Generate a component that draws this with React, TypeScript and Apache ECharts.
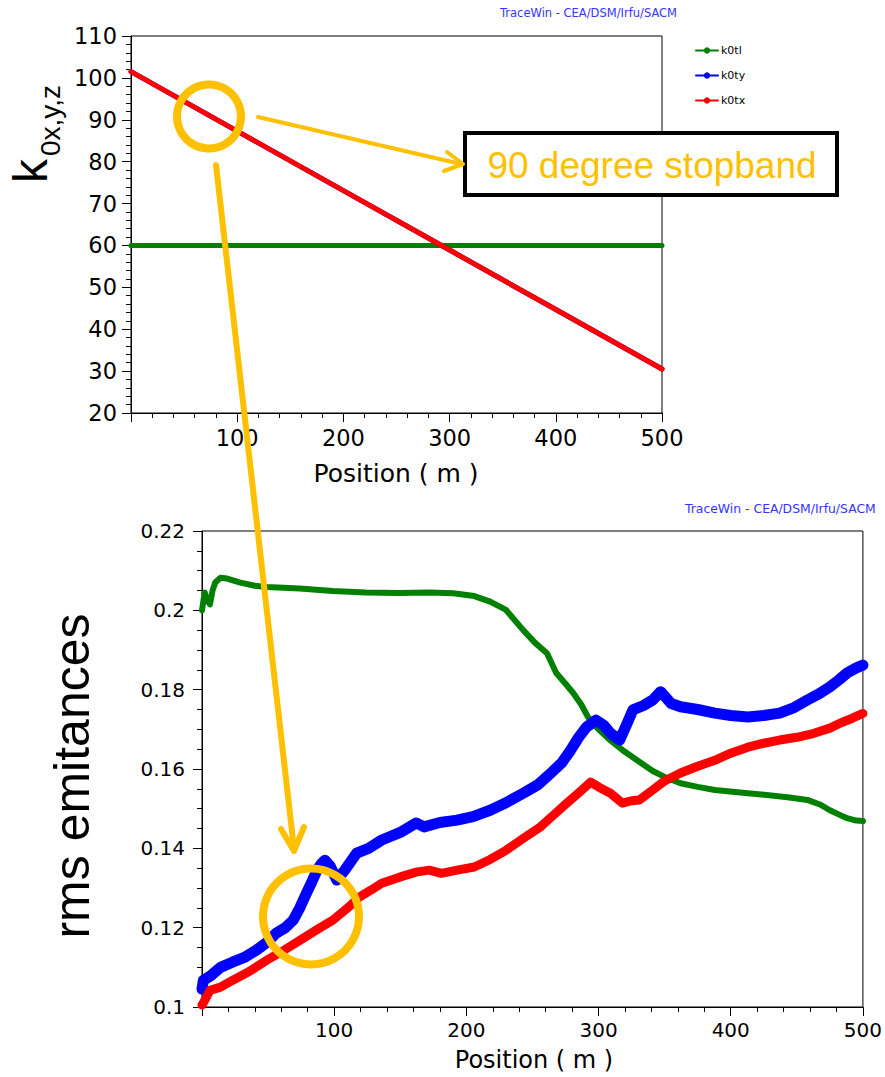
import React, { useEffect, useRef } from 'react';
import * as echarts from 'echarts';

// ---- Upper panel: phase advances per period (deg) along the linac ----
const topPosition = [0, 100, 200, 300, 400, 500];
const k0tl = [60, 60, 60, 60, 60, 60];
const k0ty = [101.5, 87.3, 73.1, 58.9, 44.7, 30.5];
const k0tx = [101.5, 87.3, 73.1, 58.9, 44.7, 30.5];

// ---- Lower panel: rms emittances along the linac ----
const emitTlPos = [0, 2, 4, 6, 8, 10, 14, 19, 24, 29, 40, 49, 74, 99, 124, 149, 172, 190, 206, 218, 230, 243, 252, 261, 268, 275, 281, 287, 292, 300, 309, 318, 330, 341, 350, 362, 375, 388, 413, 443, 458, 468, 475, 482, 488, 495, 500];
const emitTl = [0.2, 0.2045, 0.2025, 0.2015, 0.205, 0.207, 0.2082, 0.208, 0.2075, 0.207, 0.2062, 0.2059, 0.2055, 0.2049, 0.2045, 0.2044, 0.2045, 0.2043, 0.2036, 0.2022, 0.2001, 0.195, 0.1918, 0.1892, 0.1842, 0.1815, 0.1791, 0.1762, 0.1731, 0.17, 0.1672, 0.1648, 0.162, 0.1595, 0.158, 0.1564, 0.1555, 0.1547, 0.1539, 0.1529, 0.1522, 0.151, 0.1496, 0.1485, 0.1476, 0.147, 0.1469];

const emitTyPos = [0, 1, 7, 14, 23, 32, 41, 50, 56, 63, 69, 74, 79, 83, 87, 90, 93, 97, 102, 108, 117, 126, 136, 150, 162, 168, 180, 193, 205, 218, 230, 243, 254, 264, 272, 279, 285, 291, 298, 304, 309, 316, 321, 326, 334, 341, 347, 355, 362, 375, 388, 400, 413, 425, 437, 448, 458, 467, 475, 482, 488, 495, 500];
const emitTy = [0.1045, 0.1067, 0.108, 0.11, 0.1113, 0.1125, 0.1143, 0.1165, 0.1186, 0.12, 0.1219, 0.125, 0.1287, 0.1315, 0.1345, 0.136, 0.137, 0.1355, 0.132, 0.1345, 0.1388, 0.14, 0.1421, 0.144, 0.1464, 0.1454, 0.1465, 0.1471, 0.148, 0.1496, 0.1515, 0.1539, 0.156, 0.159, 0.1615, 0.1648, 0.168, 0.1706, 0.1723, 0.171, 0.169, 0.1673, 0.171, 0.1749, 0.176, 0.1774, 0.1795, 0.1765, 0.1757, 0.175, 0.1741, 0.1735, 0.1731, 0.1735, 0.1741, 0.1755, 0.1774, 0.179, 0.1807, 0.1825, 0.1842, 0.1855, 0.1862];

const emitTxPos = [0, 1, 6, 14, 23, 36, 49, 62, 74, 87, 99, 111, 119, 128, 136, 150, 162, 172, 181, 193, 206, 218, 230, 243, 256, 266, 276, 285, 294, 301, 309, 318, 325, 331, 341, 350, 362, 375, 388, 400, 413, 425, 437, 450, 463, 475, 483, 492, 500];
const emitTx = [0.1005, 0.101, 0.1042, 0.105, 0.1067, 0.109, 0.1118, 0.1143, 0.1168, 0.1195, 0.1219, 0.1252, 0.1277, 0.1295, 0.1312, 0.1328, 0.134, 0.1345, 0.1337, 0.1345, 0.1353, 0.1372, 0.1395, 0.1425, 0.1454, 0.1484, 0.1514, 0.154, 0.1567, 0.1553, 0.1539, 0.1514, 0.152, 0.1522, 0.1547, 0.157, 0.159, 0.1607, 0.1622, 0.164, 0.1655, 0.1665, 0.1673, 0.168, 0.169, 0.1703, 0.1716, 0.1728, 0.174];

const legendNames = ['k0tl', 'k0ty', 'k0tx'];
const stopbandText = '90 degree stopband';
const credit = 'TraceWin - CEA/DSM/Irfu/SACM';

const GREEN = '#008000';
const BLUE = '#0000ff';
const RED = '#ff0000';
const ORANGE = '#FFC000';
const TICK_FONT = "'DejaVu Sans', sans-serif";
const ARIAL = "'Liberation Sans', Arial, sans-serif";

const zip = (xs: number[], ys: number[]) => xs.map((x, i) => [x, ys[i]]);

const hideZero = (v: number) => (v === 0 ? '' : String(v));

function axisCommon(fontSize: number, margin: number) {
  return {
    axisLine: { show: true, onZero: false, lineStyle: { color: '#000', width: 1 } },
    axisTick: { show: true, length: 9, lineStyle: { color: '#000', width: 1 } },
    minorTick: { show: true, length: 5, lineStyle: { color: '#000', width: 1 } },
    splitLine: { show: false },
    minorSplitLine: { show: false },
    axisLabel: { color: '#000', fontFamily: TICK_FONT, fontSize, margin },
  };
}

function buildOption() {
  const topX = axisCommon(22.5, 13);
  const topY = axisCommon(22.5, 14);
  const botX = axisCommon(20, 13);
  const botY = axisCommon(20, 17);

  const lineSeries = (name: string, xi: number, xs: number[], ys: number[], color: string, width: number, z: number) => ({
    name,
    type: 'line',
    xAxisIndex: xi,
    yAxisIndex: xi,
    data: zip(xs, ys),
    symbol: 'circle',
    symbolSize: 6,
    showSymbol: false,
    silent: true,
    z,
    lineStyle: { color, width, join: 'round', cap: 'round' },
    itemStyle: { color },
    emphasis: { disabled: true },
  });

  return {
    animation: false,
    backgroundColor: '#fff',
    grid: [
      { left: 131, top: 36, width: 531, height: 377, show: true, borderColor: '#000', borderWidth: 1, backgroundColor: 'transparent' },
      { left: 202, top: 531, width: 664, height: 476, show: true, borderColor: '#000', borderWidth: 1, backgroundColor: 'transparent' },
    ],
    xAxis: [
      { type: 'value', gridIndex: 0, min: 0, max: 500, interval: 100, ...topX, minorTick: { ...topX.minorTick, splitNumber: 5 }, axisLabel: { ...topX.axisLabel, formatter: hideZero } },
      { type: 'value', gridIndex: 1, min: 0, max: 500, interval: 100, ...botX, minorTick: { ...botX.minorTick, splitNumber: 5 }, axisLabel: { ...botX.axisLabel, formatter: hideZero } },
    ],
    yAxis: [
      { type: 'value', gridIndex: 0, min: 20, max: 110, interval: 10, ...topY, minorTick: { ...topY.minorTick, splitNumber: 5 } },
      { type: 'value', gridIndex: 1, min: 0.1, max: 0.22, interval: 0.02, ...botY, minorTick: { ...botY.minorTick, splitNumber: 4 } },
    ],
    legend: {
      data: legendNames,
      orient: 'vertical',
      left: 690,
      top: 40,
      itemWidth: 22,
      itemHeight: 8,
      itemGap: 14,
      selectedMode: false,
      lineStyle: { width: 2 },
      textStyle: { color: '#000', fontFamily: TICK_FONT, fontSize: 11, padding: [0, 0, 0, -2] },
    },
    series: [
      lineSeries('k0tl', 0, topPosition, k0tl, GREEN, 5, 2),
      lineSeries('k0ty', 0, topPosition, k0ty, BLUE, 5, 3),
      lineSeries('k0tx', 0, topPosition, k0tx, RED, 5, 4),
      lineSeries('emittance tl', 1, emitTlPos, emitTl, GREEN, 6, 2),
      lineSeries('emittance ty', 1, emitTyPos, emitTy, BLUE, 11, 3),
      lineSeries('emittance tx', 1, emitTxPos, emitTx, RED, 9, 4),
    ],
    graphic: [
      // credits
      { type: 'text', x: 500, y: 13, z: 50, style: { text: credit, fill: '#3535ff', font: `11.5px ${TICK_FONT}`, textAlign: 'left', textVerticalAlign: 'middle' } },
      { type: 'text', x: 685, y: 508, z: 50, style: { text: credit, fill: '#3535ff', font: `12.4px ${TICK_FONT}`, textAlign: 'left', textVerticalAlign: 'middle' } },
      // axis titles
      { type: 'text', x: 396, y: 473, z: 50, style: { text: 'Position ( m )', fill: '#000', font: `25px ${TICK_FONT}`, textAlign: 'center', textVerticalAlign: 'middle' } },
      { type: 'text', x: 534, y: 1060, z: 50, style: { text: 'Position ( m )', fill: '#000', font: `24px ${TICK_FONT}`, textAlign: 'center', textVerticalAlign: 'middle' } },
      { type: 'text', x: 30, y: 183, rotation: Math.PI / 2, z: 50, style: { text: 'k', fill: '#000', font: `48px ${ARIAL}`, textAlign: 'left', textVerticalAlign: 'middle' } },
      { type: 'text', x: 50, y: 156, rotation: Math.PI / 2, z: 50, style: { text: '0x,y,z', fill: '#000', font: `28px ${ARIAL}`, textAlign: 'left', textVerticalAlign: 'middle' } },
      { type: 'text', x: 72, y: 776, rotation: Math.PI / 2, z: 50, style: { text: 'rms emitances', fill: '#000', font: `50px ${ARIAL}`, textAlign: 'center', textVerticalAlign: 'middle' } },
      // annotation box
      { type: 'rect', z: 60, shape: { x: 465, y: 133, width: 372, height: 62 }, style: { fill: '#fff', stroke: '#000', lineWidth: 4 } },
      { type: 'text', x: 652, y: 165, z: 61, style: { text: stopbandText, fill: ORANGE, font: `37px ${ARIAL}`, textAlign: 'center', textVerticalAlign: 'middle' } },
      // highlight circles and arrows
      { type: 'circle', z: 70, shape: { cx: 209, cy: 116.5, r: 32 }, style: { fill: 'none', stroke: ORANGE, lineWidth: 8 } },
      { type: 'circle', z: 70, shape: { cx: 311, cy: 916.5, r: 48 }, style: { fill: 'none', stroke: ORANGE, lineWidth: 8 } },
      { type: 'line', z: 70, shape: { x1: 258, y1: 117, x2: 461, y2: 164 }, style: { stroke: ORANGE, lineWidth: 4, lineCap: 'round' } },
      { type: 'polyline', z: 70, shape: { points: [[447, 152], [463, 164], [444, 171]] }, style: { fill: 'none', stroke: ORANGE, lineWidth: 4, lineCap: 'round', lineJoin: 'round' } },
      { type: 'line', z: 70, shape: { x1: 216, y1: 165, x2: 294, y2: 849 }, style: { stroke: ORANGE, lineWidth: 6, lineCap: 'round' } },
      { type: 'polyline', z: 70, shape: { points: [[281, 829], [294, 851], [304, 827]] }, style: { fill: 'none', stroke: ORANGE, lineWidth: 6, lineCap: 'round', lineJoin: 'round' } },
    ],
  };
}

export default function App() {
  const ref = useRef<HTMLDivElement>(null);
  useEffect(() => {
    document.body.style.margin = '0';
    if (!ref.current) return;
    const chart = echarts.init(ref.current, null, { renderer: 'svg' });
    chart.setOption(buildOption() as any);
    return () => chart.dispose();
  }, []);
  return <div ref={ref} style={{ width: 885, height: 1077 }} />;
}
